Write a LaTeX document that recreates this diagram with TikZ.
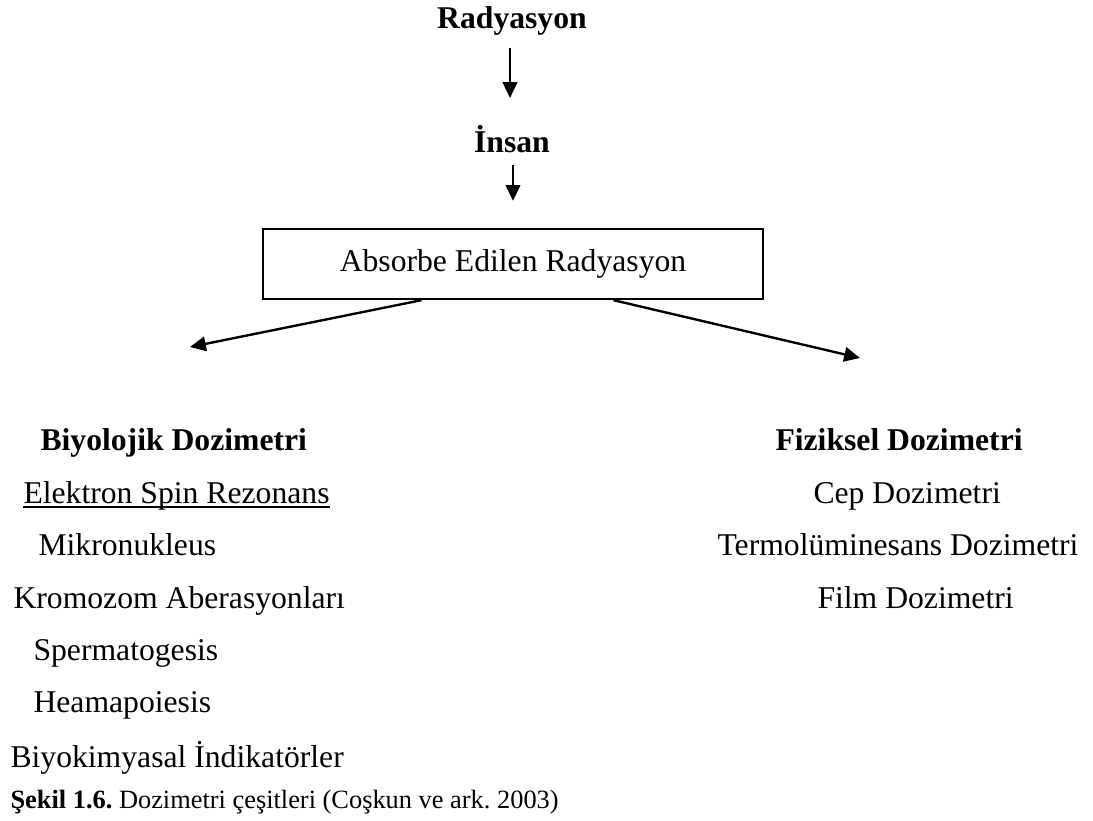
\documentclass[tikz,border=0pt]{standalone}
\usepackage{fontspec}
\setmainfont{Liberation Serif}
\usepackage{tikz}
\usetikzlibrary{positioning,calc}
\usetikzlibrary{arrows.meta}
\frenchspacing

\tikzset{
  txt/.style={anchor=base west, inner sep=0pt, font=\fontsize{12}{14}\selectfont},
  boldtxt/.style={txt, font=\fontsize{12}{14}\selectfont\bfseries},
  hdr/.style={anchor=base, inner sep=0pt, font=\fontsize{12}{14}\selectfont\bfseries},
  arr/.style={line width=0.9pt, -{Triangle[length=6pt,width=5.5pt]}},
}

\begin{document}
\begin{tikzpicture}[x=0.379pt, y=-0.379pt]
    \useasboundingbox (0,0) rectangle (1093,820);
    \node (rad) [hdr] at (512,28) {Radyasyon};
    \node (ins) [hdr] at (512,152) {İnsan};
    \node (abs) [draw, line width=0.9pt, minimum width=189.5pt, minimum height=26.5pt, font=\fontsize{12}{14}\selectfont] at (513,264) {Absorbe Edilen Radyasyon};

    % biyolojik side
    \node (bio) [boldtxt] at (40,450) {Biyolojik Dozimetri};
    \node (esr) [txt] at (23,503) {Elektron Spin Rezonans};
    \node (mik) [txt] at (38,555) {Mikronukleus};
    \node (kro) [txt] at (13,608) {Kromozom Aberasyonları};
    \node (spe) [txt] at (33,660) {Spermatogesis};
    \node (hea) [txt] at (33,712) {Heamapoiesis};
    \node (bki) [txt] at (10,767) {Biyokimyasal İndikatörler};
    \draw[line width=0.7pt] ($(esr.base west)+(0,4)$) -- ($(esr.base east)+(0,4)$);

    % fiziksel side
    \node (fiz) [boldtxt] at (775,450) {Fiziksel Dozimetri};
    \node (cep) [txt] at (813,503) {Cep Dozimetri};
    \node (tld) [txt] at (717,555) {Termolüminesans Dozimetri};
    \node (flm) [txt] at (817,608) {Film Dozimetri};

    \node (cap) [txt, font=\fontsize{10}{12}\selectfont] at (10,808) {\textbf{Şekil 1.6.} Dozimetri çeşitleri (Coşkun ve ark. 2003)};

    \coordinate (bioend) at (190,347);
    \coordinate (fizend) at (860,358);
    \draw[arr] ($(rad.base)+(-2,20)$) -- ($(ins.base)+(-2,-54)$);
    \draw[arr] ($(ins.base)+(1,13)$) -- ($(abs.north)+(0,-27)$);
    \draw[arr] ($(abs.south west)!0.318!(abs.south east)$) -- (bioend);
    \draw[arr] ($(abs.south west)!0.70!(abs.south east)$) -- (fizend);
\end{tikzpicture}
\end{document}
